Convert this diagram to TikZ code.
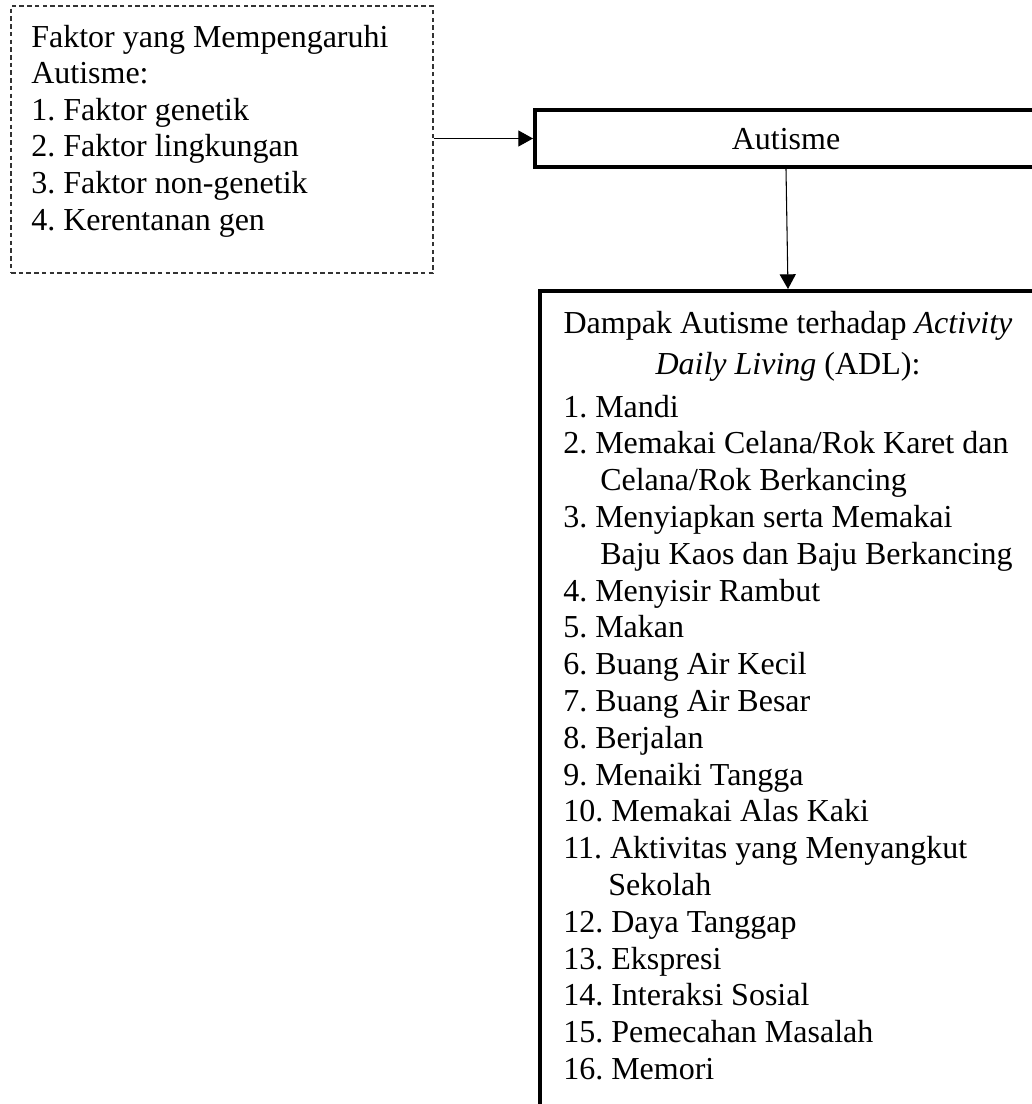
\documentclass[tikz,border=0pt]{standalone}
\usepackage{fontspec}
\setmainfont{Liberation Serif}
\frenchspacing
\usepackage{tikz}
\usetikzlibrary{arrows.meta,fit}

\tikzset{
  dashbox/.style={draw=black!80, line width=0.9pt, dash pattern=on 3.4pt off 2.4pt, inner sep=0pt},
  thickbox/.style={draw, line width=3pt, inner sep=0pt},
  linkarrow/.style={line width=0.8pt, -{Triangle[length=11pt,width=12pt]}},
  itemtext/.style={anchor=base west, inner sep=0pt, font=\fontsize{24}{27.6}\selectfont},
}

\begin{document}
\begin{tikzpicture}[x=0.75pt,y=-0.75pt]
\clip (0,0) rectangle (1032,1104);
% boxes
\node[dashbox, fit={(11,6) (433,273)}] (faktor) {};
\node[thickbox, fit={(535,110) (1037,167)}] (autisme) {};
\node[thickbox, fit={(540,291) (1036,1140)}] (dampak) {};
% left box text
\foreach \t [count=\i] in {Faktor yang Mempengaruhi, Autisme:, 1. Faktor genetik,
  2. Faktor lingkungan, 3. Faktor non-genetik, 4. Kerentanan gen}
  \node[itemtext] (faktor-\i) at (31,{47+36.6*(\i-1)}) {\t};
% middle box text
\node[itemtext, anchor=base] (autisme-t) at (786,149) {Autisme};
% bottom box text
\node[itemtext, anchor=base] (judul-1) at (788,333) {Dampak Autisme terhadap \textit{Activity}};
\node[itemtext, anchor=base] (judul-2) at (788,374) {\textit{Daily Living} (ADL):};
\foreach \x/\t [count=\i] in {563/{1. Mandi}, 563/{2. Memakai Celana/Rok Karet dan},
  600/{Celana/Rok Berkancing}, 563/{3. Menyiapkan serta Memakai},
  600/{Baju Kaos dan Baju Berkancing}, 563/{4. Menyisir Rambut}, 563/{5. Makan},
  563/{6. Buang Air Kecil}, 563/{7. Buang Air Besar}, 563/{8. Berjalan},
  563/{9. Menaiki Tangga}, 563/{10. Memakai Alas Kaki},
  563/{11. Aktivitas yang Menyangkut}, 608/{Sekolah}, 563/{12. Daya Tanggap},
  563/{13. Ekspresi}, 563/{14. Interaksi Sosial}, 563/{15. Pemecahan Masalah},
  563/{16. Memori}}
  \node[itemtext] (adl-\i) at (\x,{417+36.8*(\i-1)}) {\t};
% arrows
\draw[linkarrow] (autisme.west -| faktor.east) -- (autisme.west);
\draw[linkarrow] (autisme.south) -- (dampak.north);
\end{tikzpicture}
\end{document}
